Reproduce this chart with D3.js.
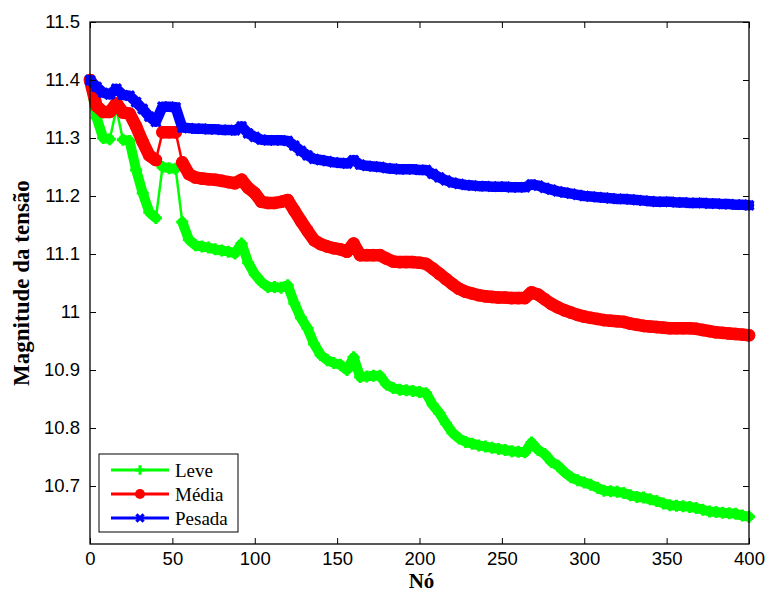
<!DOCTYPE html>
<html>
<head>
<meta charset="utf-8">
<script src="https://cdn.jsdelivr.net/npm/d3@7"></script>
<style>
body { margin: 0; background: #fff; }
.tick text { font-family: "Liberation Sans", Arial, sans-serif; font-size: 18.5px; fill: #000; }
.axis-title { font-family: "Liberation Serif", "Times New Roman", serif; font-weight: bold; font-size: 23px; }
.x-title { font-size: 21px; }
.legend-text { font-family: "Liberation Serif", "Times New Roman", serif; font-size: 19px; }
</style>
</head>
<body>
<div id="chart"></div>
<script>
var svgWidth = 766;
var svgHeight = 593;

var margin = {
  top: 22,
  right: 17,
  bottom: 49,
  left: 90
};

var width = svgWidth - margin.left - margin.right;
var height = svgHeight - margin.top - margin.bottom;

// values read every 4 nodes (0, 4, 8, ... 400)
var nodeStep = 4;

var leve = [
  11.400, 11.335, 11.300, 11.298, 11.350, 11.297, 11.295, 11.245, 11.205, 11.172,
  11.162, 11.250, 11.248, 11.247, 11.155, 11.125, 11.115, 11.113, 11.111, 11.108,
  11.106, 11.104, 11.101, 11.118, 11.085, 11.065, 11.052, 11.043, 11.043, 11.042,
  11.046, 11.015, 10.990, 10.972, 10.945, 10.926, 10.917, 10.912, 10.909, 10.900,
  10.922, 10.888, 10.889, 10.890, 10.890, 10.875, 10.869, 10.866, 10.865, 10.864,
  10.862, 10.860, 10.840, 10.826, 10.808, 10.792, 10.782, 10.776, 10.773, 10.770,
  10.768, 10.766, 10.764, 10.762, 10.760, 10.759, 10.758, 10.775, 10.762, 10.755,
  10.742, 10.735, 10.724, 10.715, 10.710, 10.706, 10.702, 10.697, 10.692, 10.691,
  10.690, 10.688, 10.684, 10.681, 10.680, 10.677, 10.674, 10.670, 10.667, 10.666,
  10.665, 10.664, 10.662, 10.659, 10.656, 10.655, 10.654, 10.653, 10.652, 10.649,
  10.647
];

var media = [
  11.400, 11.355, 11.345, 11.345, 11.360, 11.344, 11.342, 11.320, 11.293, 11.270,
  11.262, 11.310, 11.310, 11.310, 11.258, 11.238, 11.232, 11.230, 11.229, 11.228,
  11.226, 11.224, 11.222, 11.228, 11.214, 11.205, 11.190, 11.188, 11.188, 11.190,
  11.193, 11.175, 11.157, 11.140, 11.124, 11.117, 11.113, 11.110, 11.108, 11.104,
  11.118, 11.098, 11.098, 11.098, 11.098, 11.092, 11.087, 11.086, 11.086, 11.086,
  11.085, 11.083, 11.075, 11.066, 11.057, 11.048, 11.040, 11.035, 11.032, 11.029,
  11.027, 11.026, 11.025, 11.025, 11.024, 11.024, 11.024, 11.034, 11.030, 11.022,
  11.014, 11.008, 11.003, 10.999, 10.995, 10.992, 10.990, 10.988, 10.986, 10.985,
  10.984, 10.983, 10.980, 10.978, 10.976, 10.975, 10.974, 10.973, 10.972, 10.972,
  10.972, 10.972, 10.971, 10.969, 10.967, 10.965, 10.964, 10.963, 10.962, 10.961,
  10.960
];

var pesada = [
  11.400, 11.388, 11.378, 11.375, 11.385, 11.374, 11.373, 11.362, 11.350, 11.337,
  11.328, 11.354, 11.354, 11.353, 11.318, 11.317, 11.316, 11.316, 11.315, 11.315,
  11.314, 11.314, 11.313, 11.320, 11.308, 11.302, 11.297, 11.296, 11.296, 11.296,
  11.295, 11.287, 11.278, 11.270, 11.264, 11.262, 11.260, 11.258, 11.257, 11.256,
  11.262, 11.254, 11.252, 11.251, 11.250, 11.248, 11.247, 11.246, 11.246, 11.246,
  11.245, 11.245, 11.238, 11.232, 11.227, 11.223, 11.221, 11.219, 11.218, 11.217,
  11.217, 11.216, 11.216, 11.216, 11.215, 11.215, 11.215, 11.220, 11.218, 11.214,
  11.211, 11.208, 11.206, 11.204, 11.202, 11.200, 11.199, 11.198, 11.197, 11.196,
  11.195, 11.195, 11.194, 11.193, 11.192, 11.191, 11.190, 11.190, 11.190, 11.189,
  11.189, 11.188, 11.188, 11.188, 11.187, 11.187, 11.186, 11.186, 11.185, 11.185,
  11.184
];

// segments (index i -> i+1) where the value jumps within a single node
var leveJumps = [3, 4, 10, 13];
var mediaJumps = [10, 13];
var pesadaJumps = [];

var xTicks = [0, 50, 100, 150, 200, 250, 300, 350, 400];
var yTicks = [10.7, 10.8, 10.9, 11, 11.1, 11.2, 11.3, 11.4, 11.5];

var seriesNames = ["Leve", "Média", "Pesada"];
var seriesColors = ["#00ff00", "#ff0000", "#0000ff"];
var seriesMarkers = ["plus", "circle", "cross"];
var seriesBand = [10, 12.5, 10.5];
var seriesValues = [leve, media, pesada];
var seriesJumps = [leveJumps, mediaJumps, pesadaJumps];

// svg wrapper
var svg = d3.select("#chart")
  .append("svg")
  .attr("width", svgWidth)
  .attr("height", svgHeight);

var chartGroup = svg.append("g")
  .attr("transform", `translate(${margin.left}, ${margin.top})`);

var xScale = d3.scaleLinear().domain([0, 400]).range([0, width]);
var yScale = d3.scaleLinear().domain([10.6, 11.5]).range([height, 0]);

function drawMarker(g, type, color, k) {
  k = k || 1;
  if (type === "circle") {
    g.append("circle").attr("r", 6.3 * k).attr("fill", color);
  } else if (type === "plus") {
    var a = 6 * k;
    g.append("path").attr("d", `M${-a},0H${a}M0,${-a}V${a}`)
      .attr("stroke", color).attr("stroke-width", 3).attr("fill", "none");
  } else {
    var b = 4.5 * k;
    g.append("path").attr("d", `M${-b},${-b}L${b},${b}M${-b},${b}L${b},${-b}`)
      .attr("stroke", color).attr("stroke-width", 3.2).attr("fill", "none");
  }
}

// axes (MATLAB style, ticks inside, box around)
var bottomAxis = d3.axisBottom(xScale).tickValues(xTicks).tickSizeInner(-6).tickSizeOuter(0)
  .tickPadding(8).tickFormat(d3.format("~g"));
var leftAxis = d3.axisLeft(yScale).tickValues(yTicks).tickSizeInner(-6).tickSizeOuter(0)
  .tickPadding(10).tickFormat(d3.format("~g"));
var topAxis = d3.axisTop(xScale).tickValues(xTicks).tickSizeInner(-6).tickSizeOuter(0).tickFormat("");
var rightAxis = d3.axisRight(yScale).tickValues(yTicks).tickSizeInner(-6).tickSizeOuter(0).tickFormat("");

chartGroup.append("clipPath").attr("id", "plot-clip")
  .append("rect").attr("x", -8).attr("y", 0).attr("width", width + 16).attr("height", height);

var line = d3.line().x(d => xScale(d.n)).y(d => yScale(d.v));

// series: thin line, dense marker band, markers
seriesValues.forEach(function(vals, s) {
  var pts = vals.map(function(v, i) { return {n: i * nodeStep, v: v}; });
  var g = chartGroup.append("g").attr("clip-path", "url(#plot-clip)");
  g.append("path")
    .datum(pts)
    .attr("d", line)
    .attr("fill", "none")
    .attr("stroke", seriesColors[s])
    .attr("stroke-width", 2.5);

  // split into runs at single-node jumps
  var runs = [], cur = [pts[0]];
  for (var i = 0; i < pts.length - 1; i++) {
    if (seriesJumps[s].indexOf(i) >= 0) {
      runs.push(cur);
      cur = [pts[i + 1]];
    } else {
      cur.push(pts[i + 1]);
    }
  }
  runs.push(cur);
  g.selectAll("path.band")
    .data(runs.filter(r => r.length > 1))
    .enter()
    .append("path")
    .attr("class", "band")
    .attr("d", line)
    .attr("fill", "none")
    .attr("stroke", seriesColors[s])
    .attr("stroke-width", seriesBand[s])
    .attr("stroke-linejoin", "round")
    .attr("stroke-linecap", "round");

  g.selectAll("g.mk")
    .data(pts)
    .enter()
    .append("g")
    .attr("class", "mk")
    .attr("transform", d => `translate(${xScale(d.n)},${yScale(d.v)})`)
    .each(function() { drawMarker(d3.select(this), seriesMarkers[s], seriesColors[s]); });
});

chartGroup.append("g").attr("transform", `translate(0, ${height})`).call(bottomAxis);
chartGroup.append("g").call(leftAxis);
chartGroup.append("g").call(topAxis);
chartGroup.append("g").attr("transform", `translate(${width}, 0)`).call(rightAxis);
chartGroup.selectAll(".domain").remove();
chartGroup.selectAll(".tick line").attr("stroke", "#000").attr("stroke-width", 1);

chartGroup.append("rect")
  .attr("x", 0).attr("y", 0).attr("width", width).attr("height", height)
  .attr("fill", "none").attr("stroke", "#000").attr("stroke-width", 1.3);

// axis titles
chartGroup.append("text")
  .attr("class", "axis-title x-title")
  .attr("x", width / 2 + 2)
  .attr("y", height + 44)
  .attr("text-anchor", "middle")
  .text("Nó");

chartGroup.append("text")
  .attr("class", "axis-title")
  .attr("transform", `translate(-61, ${height / 2}) rotate(-90)`)
  .attr("text-anchor", "middle")
  .text("Magnitude da tensão");

// legend
var legend = chartGroup.append("g").attr("transform", "translate(9, 432)");
legend.append("rect")
  .attr("width", 139).attr("height", 78)
  .attr("fill", "#fff").attr("stroke", "#000").attr("stroke-width", 1);

seriesNames.forEach(function(name, i) {
  var row = legend.append("g").attr("transform", `translate(0, ${16 + i * 24})`);
  row.append("line").attr("x1", 12).attr("x2", 70).attr("y1", 0).attr("y2", 0)
    .attr("stroke", seriesColors[i]).attr("stroke-width", 3);
  var m = row.append("g").attr("transform", "translate(41,0)");
  drawMarker(m, seriesMarkers[i], seriesColors[i], 0.8);
  row.append("text").attr("class", "legend-text")
    .attr("x", 76).attr("y", 6.5).text(name);
});
</script>
</body>
</html>
